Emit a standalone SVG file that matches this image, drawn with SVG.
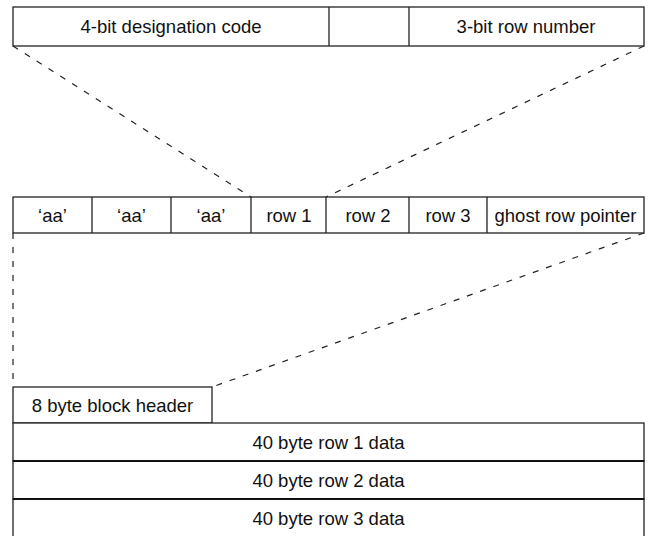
<svg xmlns="http://www.w3.org/2000/svg" width="654" height="536" viewBox="0 0 654 536">
<style>
.box{fill:#fff;stroke:#222;stroke-width:1.3}
.div{stroke:#222;stroke-width:1.3}
.sep{stroke:#111;stroke-width:1.8}
.dash{fill:none;stroke:#222;stroke-width:1.2;stroke-dasharray:6 8}
text{font-family:"Liberation Sans",Arial,sans-serif;font-size:18.5px;fill:#111;text-anchor:middle;dominant-baseline:central}
</style>
<rect width="654" height="536" fill="#fff"/>
<g id="connectors">
<line class="dash" x1="13" y1="46" x2="251" y2="197"/>
<line class="dash" x1="644" y1="46" x2="326" y2="197"/>
<line class="dash" x1="13" y1="233" x2="13" y2="387"/>
<line class="dash" x1="644" y1="233" x2="212" y2="387"/>
</g>
<g id="top-word">
<rect class="box" x="13" y="7" width="631" height="39"/>
<line class="div" x1="329" y1="7" x2="329" y2="46"/>
<line class="div" x1="409" y1="7" x2="409" y2="46"/>
<text x="171" y="26.5">4-bit designation code</text>
<text x="526" y="26.5">3-bit row number</text>
</g>
<g id="middle-row">
<rect class="box" x="13" y="197" width="631" height="36"/>
<line class="div" x1="92" y1="197" x2="92" y2="233"/>
<line class="div" x1="171" y1="197" x2="171" y2="233"/>
<line class="div" x1="251" y1="197" x2="251" y2="233"/>
<line class="div" x1="326" y1="197" x2="326" y2="233"/>
<line class="div" x1="409" y1="197" x2="409" y2="233"/>
<line class="div" x1="487" y1="197" x2="487" y2="233"/>
<text x="52.5" y="215">‘aa’</text>
<text x="131.5" y="215">‘aa’</text>
<text x="211" y="215">‘aa’</text>
<text x="289" y="215">row 1</text>
<text x="368" y="215">row 2</text>
<text x="448" y="215">row 3</text>
<text x="565.5" y="215">ghost row pointer</text>
</g>
<g id="block-header">
<rect class="box" x="13" y="387" width="199" height="36"/>
<text x="112.5" y="405">8 byte block header</text>
</g>
<g id="row1-data">
<rect class="box" x="13" y="423" width="631" height="38"/>
<text x="328.5" y="442">40 byte row 1 data</text>
</g>
<g id="row2-data">
<rect class="box" x="13" y="461" width="631" height="38"/>
<text x="328.5" y="480">40 byte row 2 data</text>
</g>
<g id="row3-data">
<rect class="box" x="13" y="499" width="631" height="38"/>
<text x="328.5" y="518">40 byte row 3 data</text>
</g>
<line class="sep" x1="13" y1="461" x2="644" y2="461"/>
<line class="sep" x1="13" y1="499" x2="644" y2="499"/>
</svg>
